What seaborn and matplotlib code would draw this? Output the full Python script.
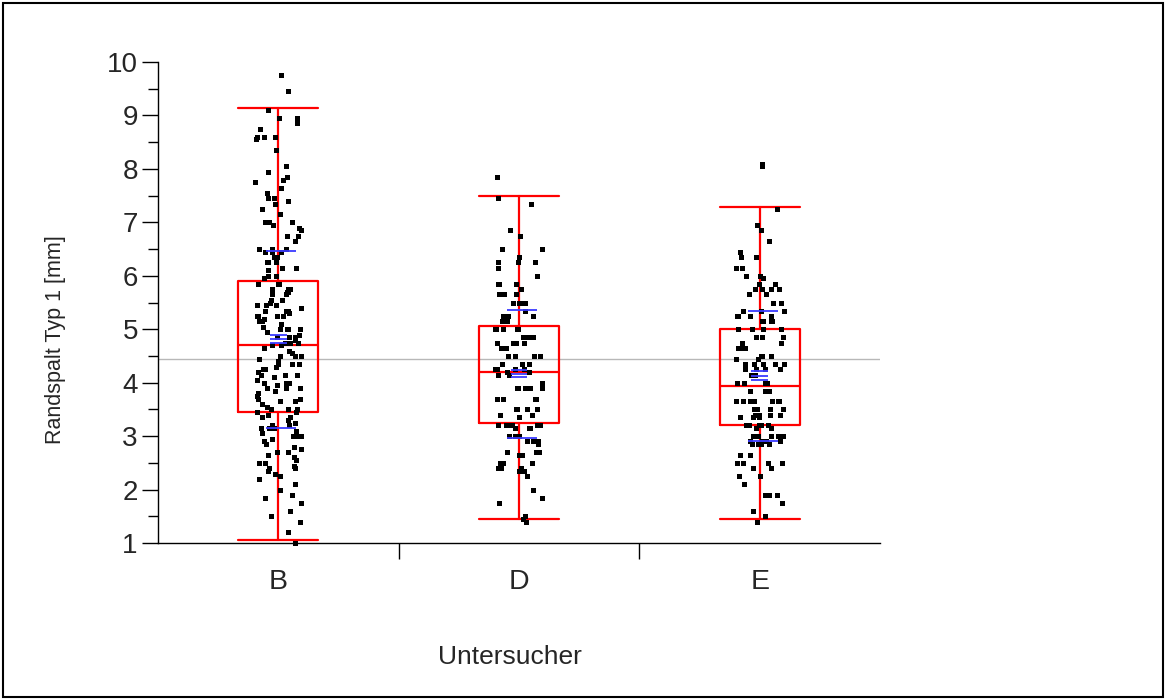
import matplotlib.pyplot as plt
from matplotlib.patches import Rectangle
import numpy as np
import pandas as pd
import seaborn as sns

# data
cats = ["B", "D", "E"]

vals_b = [9.75, 9.45, 9.1, 8.95, 8.95, 8.85, 8.75, 8.6, 8.6, 8.6, 8.55, 8.35, 8.05, 7.95,
          7.85, 7.8, 7.75, 7.65, 7.55, 7.45, 7.45, 7.4, 7.35, 7.25, 7.15, 7.0, 7.0, 7.0,
          6.95, 6.9, 6.85, 6.75, 6.75, 6.65, 6.5, 6.5, 6.5, 6.45, 6.45, 6.45, 6.35, 6.35,
          6.25, 6.25, 6.25, 6.15, 6.15, 6.1, 6.0, 6.0, 5.95, 5.95,
          5.85, 5.85, 5.85, 5.75, 5.75, 5.75, 5.7, 5.7, 5.65, 5.65, 5.55, 5.55, 5.5, 5.45,
          5.45, 5.45, 5.4, 5.35, 5.35, 5.35, 5.3, 5.25, 5.25, 5.25, 5.25, 5.2, 5.15, 5.15,
          5.15, 5.1, 5.05, 5.0, 5.0, 5.0, 5.0, 4.95, 4.9, 4.85, 4.85, 4.85, 4.8, 4.75, 4.75,
          4.75, 4.75, 4.7, 4.7, 4.65, 4.65, 4.6, 4.55, 4.5, 4.5, 4.5, 4.45, 4.4, 4.35, 4.35,
          4.35, 4.3, 4.25, 4.25, 4.2, 4.15, 4.15, 4.15, 4.1, 4.05, 4.0, 4.0, 4.0, 3.95, 3.9,
          3.9, 3.9, 3.85, 3.8, 3.75, 3.7, 3.7, 3.65, 3.65, 3.6, 3.55, 3.5, 3.5, 3.5, 3.45, 3.45,
          3.4, 3.35, 3.35, 3.3, 3.25, 3.2, 3.2, 3.2, 3.15, 3.15, 3.15, 3.1, 3.05, 3.0, 3.0,
          3.0, 2.95, 2.9, 2.85, 2.8, 2.75, 2.7, 2.7, 2.65, 2.6, 2.55, 2.5, 2.5, 2.45, 2.4,
          2.4, 2.35, 2.3, 2.25, 2.2, 2.1, 2.0, 1.9, 1.85, 1.75, 1.6, 1.5, 1.4, 1.2, 1.0]

vals_d = [7.85, 7.45, 7.35, 6.85, 6.75, 6.5, 6.5, 6.35, 6.25, 6.25, 6.25, 6.15, 6.0,
          5.85, 5.85, 5.85, 5.75, 5.65, 5.65, 5.65, 5.5, 5.5, 5.5, 5.5, 5.35, 5.25, 5.25,
          5.25, 5.15, 5.15, 5.15, 5.0, 5.0, 5.0, 5.0, 5.0, 4.85, 4.85, 4.85, 4.85, 4.75,
          4.75, 4.75, 4.75, 4.75, 4.65, 4.65, 4.5, 4.5, 4.5, 4.5, 4.5, 4.35, 4.35, 4.35,
          4.25, 4.25, 4.25, 4.25, 4.2, 4.2, 4.15, 4.15, 4.0, 3.9, 3.9, 3.9, 3.9, 3.9, 3.7,
          3.7, 3.7, 3.7, 3.5, 3.5, 3.5, 3.5, 3.5, 3.4, 3.4, 3.35, 3.2, 3.2, 3.2, 3.2, 3.2,
          3.2, 3.2, 3.15, 3.15, 3.15, 3.0, 3.0, 3.0, 3.0, 2.9, 2.9, 2.9, 2.85, 2.7, 2.7,
          2.7, 2.65, 2.65, 2.5, 2.5, 2.5, 2.4, 2.4, 2.4, 2.35, 2.35, 2.25, 2.0, 1.85, 1.75,
          1.5, 1.45, 1.4]

vals_e = [8.1, 8.05, 7.25, 6.95, 6.85, 6.65, 6.45, 6.35, 6.35, 6.15, 6.15, 6.0, 6.0,
          6.0, 5.95, 5.85, 5.85, 5.75, 5.75, 5.75, 5.75, 5.65, 5.65, 5.5, 5.5, 5.35, 5.35,
          5.35, 5.25, 5.25, 5.25, 5.25, 5.15, 5.15, 5.15, 5.15, 5.0, 5.0, 5.0, 5.0, 4.85,
          4.85, 4.85, 4.75, 4.75, 4.65, 4.65, 4.65, 4.5, 4.5, 4.5, 4.45, 4.45, 4.35, 4.35,
          4.35, 4.35, 4.35, 4.25, 4.25, 4.25, 4.25, 4.15, 4.15, 4.15, 4.0, 4.0, 4.0, 4.0,
          3.85, 3.85, 3.85, 3.65, 3.65, 3.65, 3.65, 3.65, 3.65, 3.65, 3.65, 3.5, 3.5, 3.5,
          3.5, 3.4, 3.4, 3.4, 3.4, 3.35, 3.35, 3.35, 3.2, 3.2, 3.2, 3.2, 3.2, 3.2, 3.15,
          3.15, 3.15, 3.0, 3.0, 3.0, 3.0, 3.0, 2.9, 2.9, 2.9, 2.9, 2.85, 2.85, 2.85, 2.85,
          2.65, 2.65, 2.5, 2.5, 2.5, 2.5, 2.5, 2.4, 2.4, 2.25, 2.25, 2.1, 1.9, 1.9, 1.9,
          1.75, 1.6, 1.5, 1.4]

# box plot statistics (quartiles / whisker ends)
q1 = [3.46, 3.25, 3.20]
median = [4.70, 4.20, 3.94]
q3 = [5.91, 5.06, 5.00]
whisk_lo = [1.06, 1.45, 1.45]
whisk_hi = [9.13, 7.50, 7.29]

# means, confidence of the mean, std dev
means = [4.81, 4.16, 4.13]
ci_lo = [4.74, 4.10, 4.05]
ci_hi = [4.89, 4.24, 4.21]
std_dev = [1.65, 1.20, 1.22]
grand_mean = 4.45

df = pd.DataFrame({
    "Untersucher": ["B"] * len(vals_b) + ["D"] * len(vals_d) + ["E"] * len(vals_e),
    "Randspalt": vals_b + vals_d + vals_e,
})

sns.set_style("white")
plt.rcParams["font.family"] = ["Liberation Sans", "DejaVu Sans"]

fig = plt.figure(figsize=(11.66, 7), dpi=100)
ax = fig.add_axes([158 / 1166, 1 - 543 / 700, (880 - 158) / 1166, (543 - 62) / 700])

np.random.seed(3)
sns.stripplot(data=df, x="Untersucher", y="Randspalt", order=cats, jitter=0.1,
              color="black", marker="s", size=3.6, linewidth=0, ax=ax, zorder=3,
              clip_on=False)

pos = np.arange(len(cats))
stats = [dict(med=median[i], q1=q1[i], q3=q3[i], whislo=whisk_lo[i], whishi=whisk_hi[i],
              fliers=[]) for i in range(len(cats))]
red = dict(color="#ff0000", linewidth=1.6)
ax.bxp(stats, positions=pos, widths=1 / 3, capwidths=1 / 3, showfliers=False,
       manage_ticks=False, boxprops=red, whiskerprops=red, capprops=red,
       medianprops=red, zorder=2)

ax.axhline(grand_mean, color="#b8b8b8", linewidth=1, zorder=1)

blue = "#3a3aff"
m = np.array(means)
s = np.array(std_dev)
ax.hlines(m, pos - 0.035, pos + 0.035, color=blue, linewidth=1.3, zorder=4)
ax.hlines(ci_lo, pos - 0.035, pos + 0.035, color=blue, linewidth=1.3, zorder=4)
ax.hlines(ci_hi, pos - 0.035, pos + 0.035, color=blue, linewidth=1.3, zorder=4)
ax.hlines(m + s, pos - 0.05, pos + 0.075, color=blue, linewidth=1.3, zorder=4)
ax.hlines(m - s, pos - 0.05, pos + 0.075, color=blue, linewidth=1.3, zorder=4)

ax.set_xlim(-0.5, 2.5)
ax.set_ylim(1, 10)

# y axis
ax.set_yticks(range(1, 11))
ax.set_yticks(np.arange(1.5, 10, 1), minor=True)
ax.tick_params(axis="y", which="major", direction="out", length=11.5, width=1,
               color="black", labelsize=20, pad=3, left=True)
ax.tick_params(axis="y", which="minor", direction="out", length=7, width=1,
               color="black", left=True)

# x axis: separator ticks, labels at the category centres
ax.set_xticks([0.5, 1.5])
ax.set_xticklabels([])
ax.set_xticks(pos, minor=True)
ax.set_xticklabels(cats, minor=True)
ax.tick_params(axis="x", which="major", direction="out", length=11.5, width=1,
               color="black", bottom=True)
ax.tick_params(axis="x", which="minor", length=0, labelsize=20.5, pad=19)

for side in ["top", "right"]:
    ax.spines[side].set_visible(False)
for side in ["left", "bottom"]:
    ax.spines[side].set_color("black")
    ax.spines[side].set_linewidth(1)

ax.set_xlabel("")
ax.set_ylabel("")
fig.text(55 / 1166, 1 - 340 / 700, "Randspalt Typ 1 [mm]", rotation=90,
         ha="center", va="center", fontsize=15.5)
fig.text(510 / 1166, 1 - 657 / 700, "Untersucher", ha="center", va="center",
         fontsize=19)

fig.patches.append(Rectangle((3 / 1166, 3 / 700), 1160 / 1166, 694 / 700,
                             transform=fig.transFigure, fill=False,
                             edgecolor="black", linewidth=1.5))

fig.savefig("out.png", dpi=100)
